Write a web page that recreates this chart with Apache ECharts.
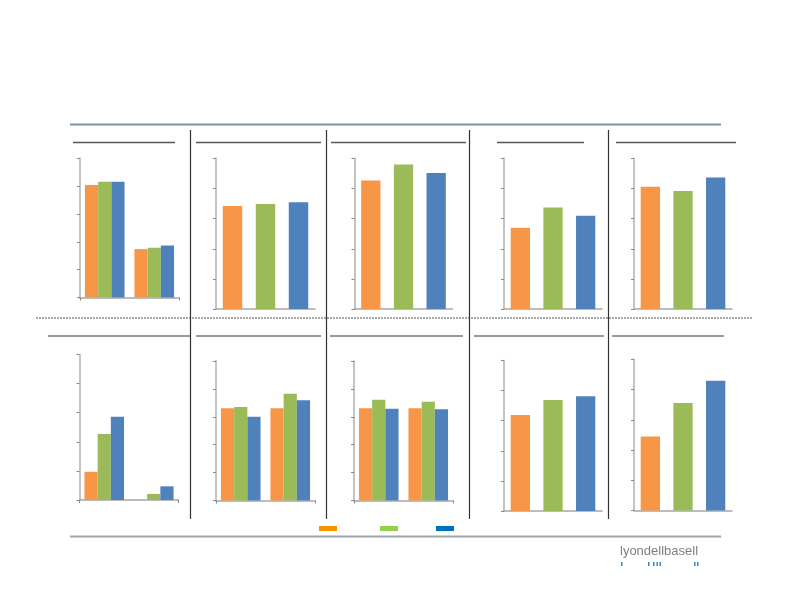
<!DOCTYPE html>
<html>
<head>
<meta charset="utf-8">
<script src="https://cdn.jsdelivr.net/npm/echarts@6/dist/echarts.min.js"></script>
<style>html,body{margin:0;padding:0;background:#fff;}#c{width:792px;height:612px;}</style>
</head>
<body>
<div id="c"></div>
<script>
// ---- data ----
const seriesNames = ['Series 1', 'Series 2', 'Series 3'];
const twoCats = ['Group 1', 'Group 2'];
const threeCats = ['Bar 1', 'Bar 2', 'Bar 3'];
const yMax = 5;
const yInterval = 1;

// top row
const chart1Orange = [4.05, 1.74];
const chart1Green  = [4.16, 1.79];
const chart1Blue   = [4.16, 1.87];
const chart2Values = [3.42, 3.49, 3.55];
const chart3Values = [4.27, 4.80, 4.52];
const chart4Values = [2.70, 3.37, 3.10];
const chart5Values = [4.06, 3.92, 4.37];
// bottom row
const chart6Orange = [0.97, 0];
const chart6Green  = [2.27, 0.21];
const chart6Blue   = [2.86, 0.47];
const chart7Orange = [3.31, 3.31];
const chart7Green  = [3.35, 3.83];
const chart7Blue   = [3.00, 3.59];
const chart8Orange = [3.31, 3.31];
const chart8Green  = [3.61, 3.54];
const chart8Blue   = [3.29, 3.27];
const chart9Values  = [3.19, 3.69, 3.81];
const chart10Values = [2.45, 3.56, 4.30];

// ---- styles / layout ----
const barColors = ['#F79646', '#9BBB59', '#4F81BD'];
const legendColors = ['#F79400', '#92D050', '#0070C0'];

const charts = [
  {grid:{left:80,  top:158.5, width:99, height:139}, groups:[chart1Orange, chart1Green, chart1Blue]},
  {grid:{left:216, top:158.5, width:99, height:150.5}, values:chart2Values},
  {grid:{left:354.5, top:158.5, width:98, height:150.5}, values:chart3Values},
  {grid:{left:504, top:158.5, width:98, height:150.5}, values:chart4Values},
  {grid:{left:634, top:158.5, width:98, height:150.5}, values:chart5Values},
  {grid:{left:79.5, top:354.5, width:99, height:145.5}, groups:[chart6Orange, chart6Green, chart6Blue]},
  {grid:{left:216, top:361, width:99, height:139.5}, groups:[chart7Orange, chart7Green, chart7Blue]},
  {grid:{left:354, top:361, width:99, height:139.5}, groups:[chart8Orange, chart8Green, chart8Blue]},
  {grid:{left:504, top:360.5, width:98, height:150.5}, values:chart9Values},
  {grid:{left:634, top:359.5, width:98, height:151}, values:chart10Values}
];

const grids = [], xAxes = [], yAxes = [], series = [];
charts.forEach((c, i) => {
  grids.push(Object.assign({}, c.grid));
  const two = !!c.groups;
  xAxes.push({
    type:'category', gridIndex:i, data: two ? twoCats : threeCats,
    axisLabel:{show:false},
    axisLine:{show:true, lineStyle:{color:'#A6A6A6', width:1.5}},
    axisTick:{show:two, length:3, lineStyle:{color:'#888'}},
    splitLine:{show:false}
  });
  yAxes.push({
    type:'value', gridIndex:i, min:0, max:yMax, interval:yInterval,
    axisLabel:{show:false},
    splitLine:{show:false},
    axisLine:{show:true, lineStyle:{color:'#C4C4C4', width:2}},
    axisTick:{show:true, length:3, lineStyle:{color:'#888'}}
  });
  if (two) {
    c.groups.forEach((vals, k) => {
      series.push({
        type:'bar', name: seriesNames[k], xAxisIndex:i, yAxisIndex:i,
        data: vals, barGap:'0%', barCategoryGap:'20%',
        itemStyle:{color: barColors[k]}, silent:true, animation:false
      });
    });
  } else {
    series.push({
      type:'bar', name:'chart' + (i + 1), xAxisIndex:i, yAxisIndex:i,
      data: c.values.map((v, k) => ({value:v, itemStyle:{color: barColors[k]}})),
      barCategoryGap:'41%', silent:true, animation:false
    });
  }
});

const legendLefts = [319, 380, 436];
const legends = seriesNames.map((n, i) => ({
  left: legendLefts[i], top: 526, padding:0, itemGap:0,
  itemWidth:18, itemHeight:5, icon:'rect', selectedMode:false,
  formatter: () => '', textStyle:{fontSize:5},
  data:[{name:n, itemStyle:{color: legendColors[i]}}]
}));

function hline(x1, x2, y, color, w, dash) {
  return {type:'line', silent:true, shape:{x1:x1, y1:y, x2:x2, y2:y},
    style:{stroke:color, lineWidth:w, lineDash: dash || null}};
}
function vline(x, y1, y2, color, w) {
  return {type:'line', silent:true, shape:{x1:x, y1:y1, x2:x, y2:y2},
    style:{stroke:color, lineWidth:w}};
}
const graphics = [
  hline(70, 721, 124.5, '#8092A6', 2),
  hline(70, 721, 536.5, '#9AA5AE', 2),
  hline(36, 752, 318, '#A8A8A8', 2, [2, 1]),
  vline(190.5, 130, 519, '#333', 1.2),
  vline(326.5, 130, 519, '#333', 1.2),
  vline(469.5, 130, 519, '#333', 1.2),
  vline(608.5, 130, 519, '#333', 1.2),
  // title underlines, top row
  hline(73, 175, 142.5, '#595959', 1.5),
  hline(196, 321, 142.5, '#595959', 1.5),
  hline(331, 466, 142.5, '#595959', 1.5),
  hline(497, 584, 142.5, '#595959', 1.5),
  hline(616, 736, 142.5, '#595959', 1.5),
  // title underlines, bottom row
  hline(48, 190, 336, '#9A9A9A', 2),
  hline(196, 321, 336, '#9A9A9A', 2),
  hline(330, 463, 336, '#9A9A9A', 2),
  hline(474, 604, 336, '#9A9A9A', 2),
  hline(612, 724, 336, '#9A9A9A', 2),
  // logo
  {type:'text', left:620, top:545, silent:true,
   style:{text:'lyondellbasell', fill:'#7F7F7F', font:'13px "Liberation Sans"'}},
  {type:'rect', silent:true, shape:{x:621, y:562, width:1.5, height:4}, style:{fill:'#2E8BC9'}},
  {type:'rect', silent:true, shape:{x:648, y:562, width:1.5, height:4}, style:{fill:'#2E8BC9'}},
  {type:'rect', silent:true, shape:{x:653, y:562, width:1.5, height:4}, style:{fill:'#2E8BC9'}},
  {type:'rect', silent:true, shape:{x:656.5, y:562, width:1.5, height:4}, style:{fill:'#2E8BC9'}},
  {type:'rect', silent:true, shape:{x:659.5, y:562, width:1.5, height:4}, style:{fill:'#2E8BC9'}},
  {type:'rect', silent:true, shape:{x:694, y:562, width:1.5, height:4}, style:{fill:'#2E8BC9'}},
  {type:'rect', silent:true, shape:{x:697, y:562, width:1.5, height:4}, style:{fill:'#2E8BC9'}}
];

const chart = echarts.init(document.getElementById('c'), null, {renderer:'canvas'});
chart.setOption({
  backgroundColor:'#ffffff',
  animation:false,
  grid: grids, xAxis: xAxes, yAxis: yAxes, series: series,
  legend: legends,
  graphic: graphics
});
</script>
</body>
</html>
